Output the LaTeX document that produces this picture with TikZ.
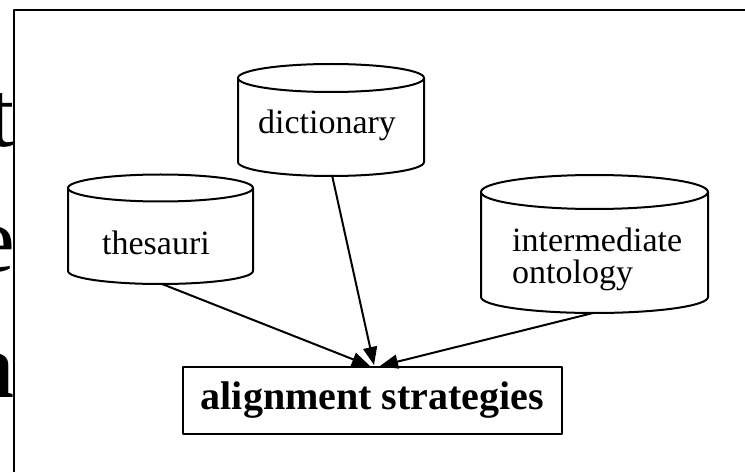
\documentclass[tikz,border=0pt]{standalone}
\usepackage{fontspec}
\setmainfont{Liberation Serif}
\usetikzlibrary{arrows.meta}
\tikzset{
  ln/.style={line width=2pt, line join=round},
  cyl/.style={ln, fill=white},
  lbl/.style={font=\fontsize{34}{38}\selectfont, inner sep=0pt},
  big/.style={font=\fontsize{94}{94}\selectfont, inner sep=0pt, anchor=base east},
  arr/.style={ln, -{Triangle[length=18pt,width=14pt]}},
}
\begin{document}
\begin{tikzpicture}[x=1pt,y=1pt]
\useasboundingbox (0,0) rectangle (745,472);
% clipped big letters
\begin{scope}
  \clip (0,0) rectangle (14,472);
  \node[big] (lt) at (15,325) {t};
  \node[big] (le) at (15,200) {e};
  \node[big, font=\fontsize{94}{94}\selectfont\bfseries] (la) at (15,75) {a};
\end{scope}
% frame
\draw[ln] (14,0) -- (14,462) -- (745,462);
% dictionary cylinder
\draw[cyl] (238,394) -- (238,310) arc[start angle=180,end angle=360,x radius=93,y radius=14] -- (424,394);
\draw[cyl] (331,394) ellipse[x radius=93,y radius=14];
\node[lbl] (dict) at (327,347) {dictionary};
% thesauri cylinder
\draw[cyl] (68,284) -- (68,201) arc[start angle=180,end angle=360,x radius=92.5,y radius=13] -- (253,284);
\draw[cyl] (160.5,284) ellipse[x radius=92.5,y radius=13.5];
\node[lbl] (thes) at (156,229) {thesauri};
% intermediate ontology cylinder
\draw[cyl] (481,280) -- (481,175) arc[start angle=180,end angle=360,x radius=113.5,y radius=16] -- (708,280);
\draw[cyl] (594.5,280) ellipse[x radius=113.5,y radius=17];
\node[lbl, align=left, anchor=north west, font=\fontsize{34}{32}\selectfont] (inter) at (512,244) {intermediate\\ontology};
% alignment box
\node[ln, draw, minimum width=379pt, minimum height=67pt, inner sep=0pt,
      font=\fontsize{40}{42}\selectfont\bfseries] (align) at (372.5,71.5) {alignment strategies};
% connector ends
\coordinate (thesB) at (162,188);
\coordinate (dictB) at (332,297);
\coordinate (interB) at (593,159);
\coordinate (t1) at (370,106);
\coordinate (t2) at (374,107);
\coordinate (t3) at (380,106);
\draw[arr] (thesB) -- (t1);
\draw[arr] (dictB) -- (t2);
\draw[arr] (interB) -- (t3);
\end{tikzpicture}
\end{document}
